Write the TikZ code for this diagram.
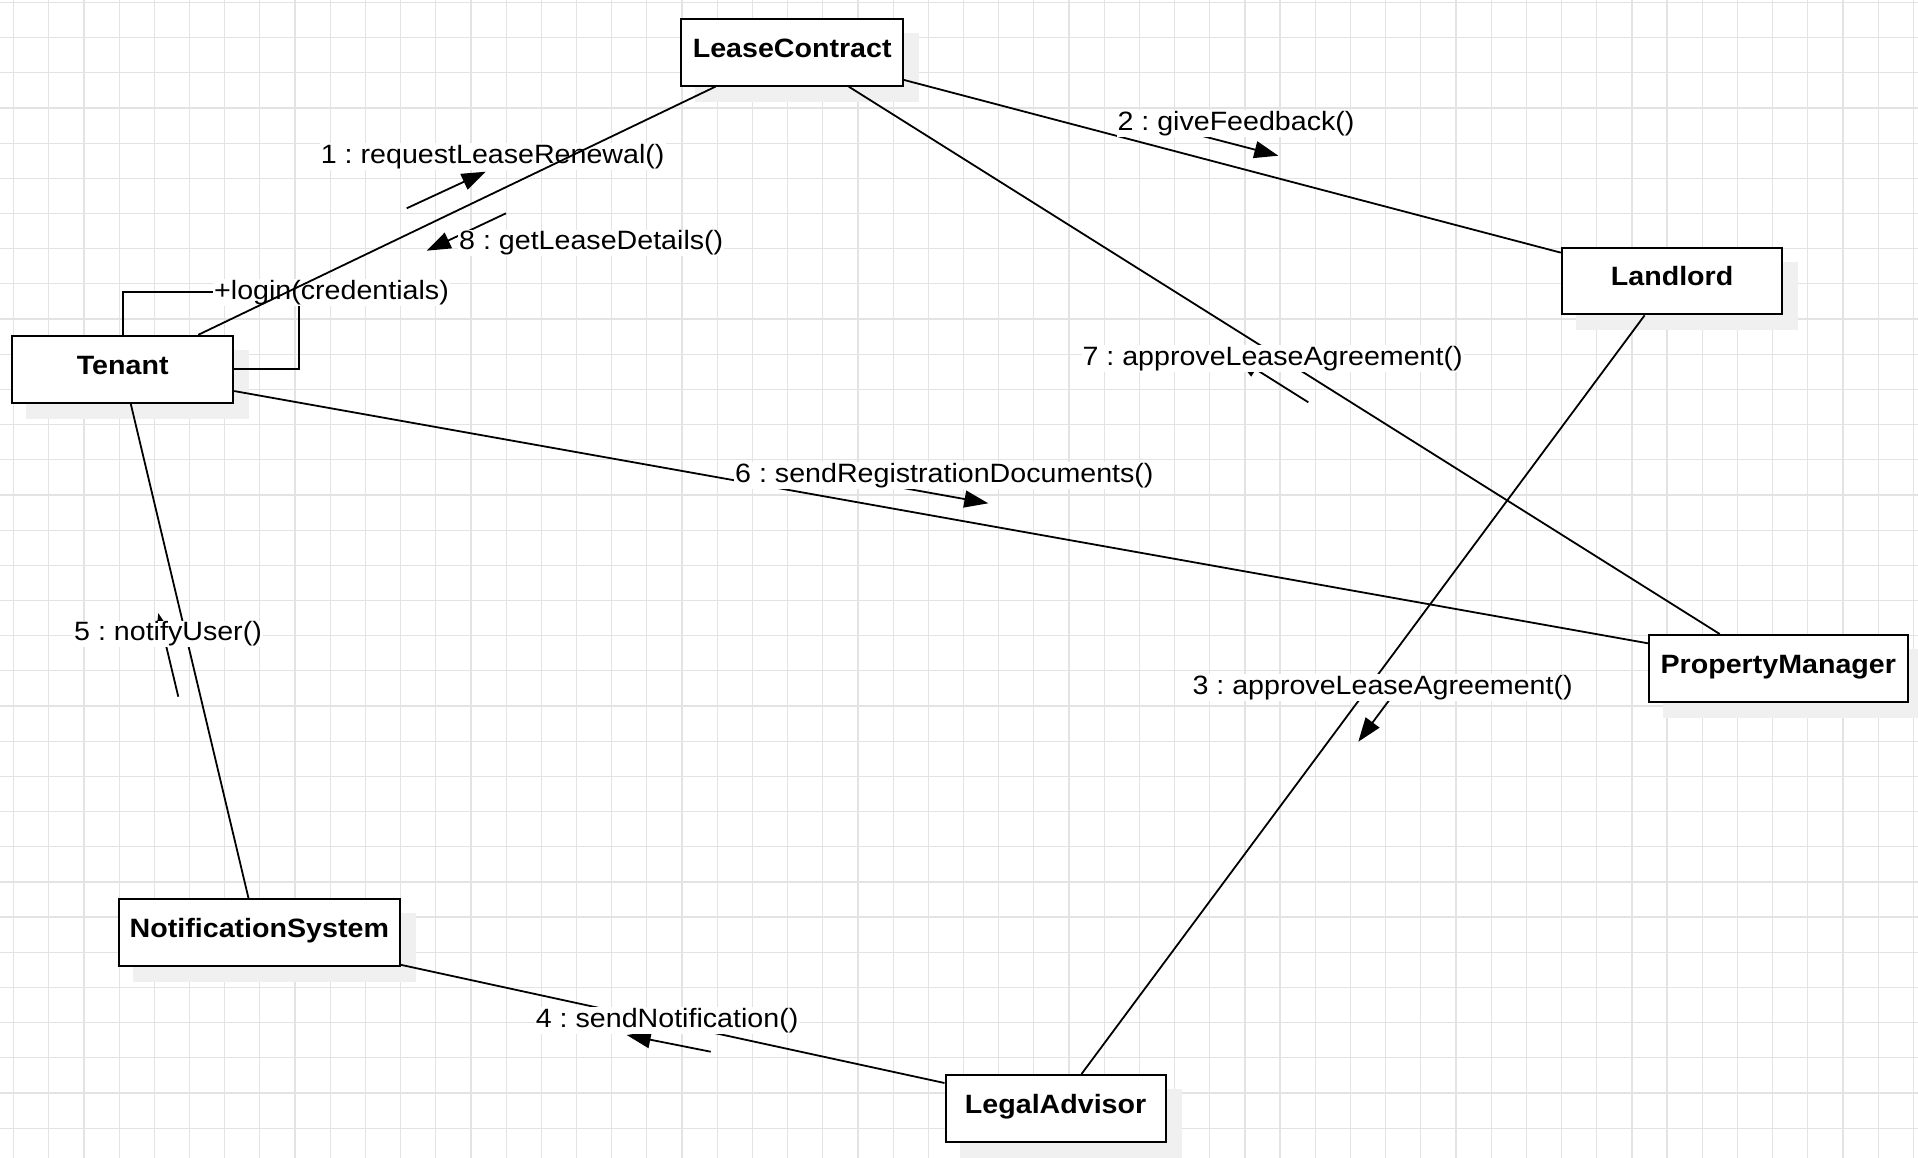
\documentclass[tikz,border=0pt]{standalone}
\usepackage{fontspec}
\setmainfont{Liberation Sans}[FakeStretch=1.08]
\usetikzlibrary{arrows.meta}
\pgfdeclarelayer{bg}
\pgfdeclarelayer{shadowlayer}
\pgfdeclarelayer{front}
\pgfsetlayers{bg,shadowlayer,main,front}
\frenchspacing
\begin{document}
\begin{tikzpicture}[x=1pt,y=-1pt,
  every node/.style={font=\fontsize{26.5}{30}\selectfont},
  obj/.style={draw=black, line width=2pt, fill=white, inner sep=0pt,
    minimum height=66.7pt, text height=19pt, text depth=9.3pt,
    font=\fontsize{26.5}{30}\selectfont\bfseries},
  objshadow/.style={fill=black!6, draw=none},
  assoc/.style={draw=black, line width=1.8pt},
  msg/.style={draw=black, line width=1.8pt, -{Triangle[length=24pt,width=17pt]}},
  lbl/.style={fill=white, inner sep=1pt, anchor=base west},
  gridline/.style={draw=black!11, line width=1.2pt}
]
\useasboundingbox (0,0) rectangle (1918,1158);

% paper and grid
\begin{pgfonlayer}{bg}
  \fill[white] (0,0) rectangle (1918,1158);
  \foreach \i in {0,...,54} \draw[gridline] ({13.6+35.18*\i},0) -- ({13.6+35.18*\i},1158);
  \foreach \j in {0,...,32} \draw[gridline] (0,{2.4+35.18*\j}) -- (1918,{2.4+35.18*\j});
\end{pgfonlayer}

% objects
\begin{pgfonlayer}{front}
  \node[obj, minimum width=221.5pt] (lc)       at (792.2,52.3)   {LeaseContract};
  \node[obj, minimum width=221pt]   (tenant)   at (122.7,369.2)  {Tenant};
  \node[obj, minimum width=220.6pt] (landlord) at (1672.1,281)   {Landlord};
  \node[obj, minimum width=258.6pt] (pm)       at (1778.3,668.35){PropertyManager};
  \node[obj, minimum width=281.3pt] (ns)       at (259.35,932.5) {NotificationSystem};
  \node[obj, minimum width=220.2pt] (la)       at (1055.6,1108.35){LegalAdvisor};
\end{pgfonlayer}

% object shadows
\begin{pgfonlayer}{shadowlayer}
  \foreach \n in {lc,tenant,landlord,pm,ns,la}
    \fill[objshadow] ([shift={(15,15)}]\n.north west) rectangle ([shift={(15,15)}]\n.south east);
\end{pgfonlayer}

% links
\draw[assoc] ([yshift=6.7pt]lc.south east) -- ([yshift=-6pt]landlord.north west);
\draw[assoc] ([xshift=168.3pt]lc.south west) -- ([xshift=71.7pt]pm.north west);
\draw[assoc] ([xshift=83.8pt]landlord.south west) -- ([xshift=137pt]la.north west);
\draw[assoc] ([yshift=12.5pt]tenant.south east) -- ([yshift=-9.3pt]pm.north west);
\draw[assoc] ([xshift=119.5pt]tenant.south west) -- ([xshift=130.8pt]ns.north west);
\draw[assoc] ([yshift=2pt]ns.south east) -- ([yshift=-9pt]la.north west);
\coordinate (loopc) at (299.3,292.3);
\draw[assoc] (tenant.north) |- (loopc) |- (tenant.east);

% message arrows
\coordinate (m1a) at (406.7,208.3);  \coordinate (m1b) at (485.7,171.7);
\coordinate (m2a) at (1195.1,134.1); \coordinate (m2b) at (1278.3,155.7);
\coordinate (m3a) at (1403.4,681);   \coordinate (m3b) at (1358.3,741.7);
\coordinate (m4a) at (710.7,1051.7); \coordinate (m4b) at (626.7,1035);
\coordinate (m5a) at (178.3,696.7);  \coordinate (m5b) at (158.3,613.1);
\coordinate (m6a) at (903.6,488.1);  \coordinate (m6b) at (988.3,503.3);
\coordinate (m7a) at (1308.3,402.3); \coordinate (m7b) at (1235.5,356.5);
\coordinate (m8a) at (506,213.3);    \coordinate (m8b) at (426.7,250.7);
\foreach \k in {1,...,8} \draw[msg] (m\k a) -- (m\k b);

% message labels
\node[lbl] (l1) at (319.7,163.3)  {1 : requestLeaseRenewal()};
\node[lbl] (l8) at (458,250)      {8 : getLeaseDetails()};
\node[lbl] (lg) at (213,299.3)    {+login(credentials)};
\node[lbl] (l2) at (1116.3,130.7) {2 : giveFeedback()};
\node[lbl] (l7) at (1081.3,365)   {7 : approveLeaseAgreement()};
\node[lbl] (l6) at (734,482.3)    {6 : sendRegistrationDocuments()};
\node[lbl] (l3) at (1191.3,694)   {3 : approveLeaseAgreement()};
\node[lbl] (l4) at (534.7,1027.3) {4 : sendNotification()};
\node[lbl] (l5) at (73,640.7)     {5 : notifyUser()};

% tenant to lease contract, drawn across its labels
\draw[assoc] ([xshift=187pt]tenant.north west) -- ([xshift=35pt]lc.south west);
\end{tikzpicture}
\end{document}
